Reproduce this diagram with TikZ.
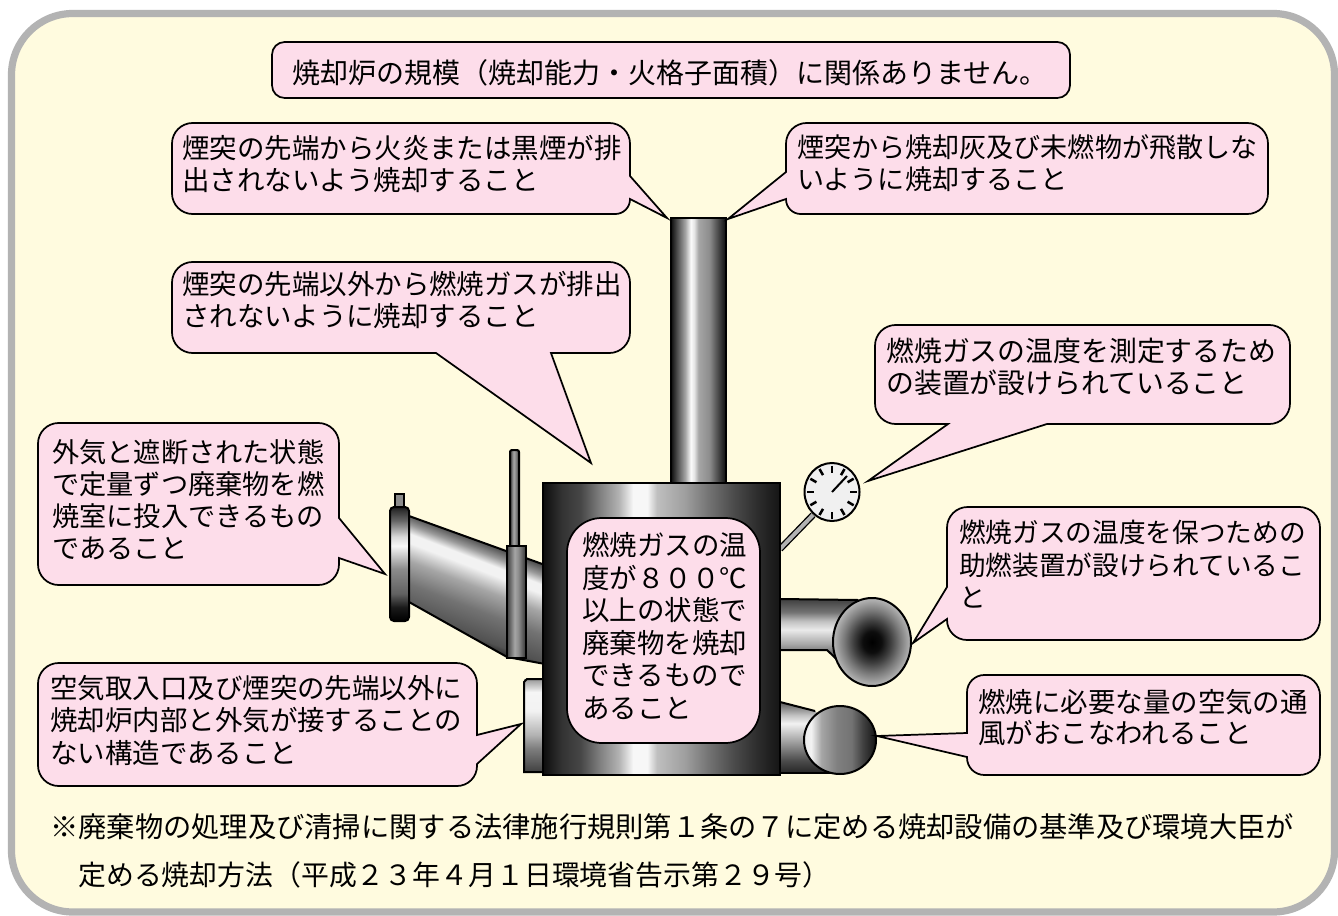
\documentclass[tikz,border=0pt]{standalone}
\usepackage{fontspec}
\usetikzlibrary{calc}
\newfontfamily\jpfont{Noto Sans CJK JP}
\definecolor{bgc}{HTML}{FFFBDF}
\definecolor{framec}{HTML}{B3B3B3}
\definecolor{pinkc}{HTML}{FDDDEA}
\pgfdeclarehorizontalshading{bodysh}{100bp}{color(0bp)=(black!95);color(25bp)=(black!95);color(29bp)=(black!80);color(33bp)=(black!72);color(37bp)=(black!50);color(41bp)=(black!30);color(44bp)=(black!3);color(47bp)=(black!3);color(49bp)=(black!25);color(55bp)=(black!38);color(60bp)=(black!55);color(65bp)=(black!70);color(70bp)=(black!82);color(75bp)=(black!92);color(100bp)=(black!92)}
\pgfdeclarehorizontalshading{chimsh}{100bp}{color(0bp)=(black!95);color(25bp)=(black!95);color(30bp)=(black!72);color(38bp)=(black!35);color(43bp)=(black!2);color(46bp)=(black!10);color(50bp)=(black!35);color(60bp)=(black!45);color(68bp)=(black!72);color(75bp)=(black!95);color(100bp)=(black!95)}
\pgfdeclareverticalshading{feedsh}{100bp}{color(0bp)=(black!90);color(25bp)=(black!90);color(30bp)=(black!68);color(42bp)=(black!55);color(52bp)=(black!35);color(60bp)=(black!5);color(64bp)=(black!5);color(68bp)=(black!40);color(75bp)=(black!85);color(100bp)=(black!85)}
\pgfdeclareverticalshading{flangesh}{100bp}{color(0bp)=(black);color(25bp)=(black);color(31bp)=(black!90);color(37bp)=(black!62);color(48bp)=(black!45);color(58bp)=(black!3);color(62bp)=(black!15);color(69bp)=(black!60);color(75bp)=(black!88);color(100bp)=(black!88)}
\pgfdeclareverticalshading{pipesh}{100bp}{color(0bp)=(black!85);color(25bp)=(black!85);color(34bp)=(black!70);color(44bp)=(black!35);color(54bp)=(black!8);color(60bp)=(black!25);color(66bp)=(black!55);color(75bp)=(black!75);color(100bp)=(black!75)}
\pgfdeclareverticalshading{stubsh}{100bp}{color(0bp)=(black!75);color(25bp)=(black!75);color(30bp)=(black!65);color(38bp)=(black!50);color(45bp)=(black!30);color(58bp)=(black!5);color(68bp)=(black!4);color(75bp)=(black!40);color(100bp)=(black!40)}
\pgfdeclareverticalshading{lowsh}{100bp}{color(0bp)=(black!85);color(25bp)=(black!85);color(34bp)=(black!70);color(46bp)=(black!40);color(60bp)=(black!5);color(66bp)=(black!25);color(75bp)=(black!65);color(100bp)=(black!65)}
\pgfdeclarehorizontalshading{ballsh}{100bp}{color(0bp)=(black!8);color(25bp)=(black!8);color(30bp)=(black!5);color(37bp)=(black!35);color(48bp)=(black!50);color(58bp)=(black!55);color(66bp)=(black!75);color(75bp)=(black!92);color(100bp)=(black!92)}
\pgfdeclarehorizontalshading{rodsh}{100bp}{color(0bp)=(black!75);color(25bp)=(black!75);color(45bp)=(black!35);color(55bp)=(black!45);color(75bp)=(black!80);color(100bp)=(black!80)}
\pgfdeclareradialshading{mouthsh}{\pgfpoint{0bp}{0bp}}{color(0bp)=(black);color(6bp)=(black!95);color(12bp)=(black!75);color(18bp)=(black!52);color(25bp)=(black!28);color(50bp)=(black!28)}
\newcommand{\jpf}[2]{\jpfont\fontsize{#1pt}{#2pt}\selectfont}
\tikzset{
  outl/.style={draw=black,line width=1.5pt},
  bub/.style={draw=black,line width=1.3pt,fill=pinkc,line join=miter},
  txt/.style={align=left,anchor=north west,inner sep=0pt,text=black},
  rc/.style={rounded corners=15.5pt}
}
\begin{document}
\begin{tikzpicture}[x=0.75pt,y=-0.75pt]
\useasboundingbox (0,0) rectangle (1338,916);
\fill[white] (0,0) rectangle (1338,916);
% frame
\draw[fill=bgc,draw=framec,line width=5.4pt,rounded corners=46pt] (11.5,13.5) rectangle (1334.5,912);

% chimney
\shade[shading=chimsh] (671,218) rectangle (726,484);
\draw[outl] (671,484) -- (671,218) -- (726,218) -- (726,484);
% feed pipe
\begin{scope}
  \clip (409,516) -- (545,565) -- (545,664) -- (507,657) -- (409,602) -- cycle;
  \begin{scope}[transform canvas={rotate around={-21:(477,590)}}]
    \shade[shading=feedsh] (380,538) rectangle (580,645);
  \end{scope}
\end{scope}
\draw[outl] (409,516) -- (545,565);
\draw[outl] (409,602) -- (507,657) -- (545,664);
% flange
\draw[outl,fill=black!45] (395,494) rectangle (404,510);
\shade[shading=flangesh,rounded corners=3pt] (390,507) rectangle (409,621);
\draw[outl,rounded corners=3pt] (390,507) rectangle (409,621);
% damper
\shade[shading=rodsh] (510,450) rectangle (519,547);
\draw[outl,rounded corners=1.5pt] (510,547) -- (510,450) -- (519,450) -- (519,547);
\shade[shading=rodsh] (507,546) rectangle (526,658);
\draw[outl] (507,546) rectangle (526,658);
% right upper pipe
\fill[shading=pipesh] (780,599) -- (858,599) -- (872,642) -- (850,672) -- (827,650) -- (780,650) -- cycle;
\draw[outl] (780,599) -- (858,600);
\draw[outl] (780,650) -- (827,650) -- (850,672);
\shade[shading=mouthsh] (872,642) ellipse [x radius=39,y radius=44];
\draw[outl] (872,642) ellipse [x radius=39,y radius=44];
% right lower pipe
\fill[shading=lowsh] (780,702) -- (815,711) -- (838,740) -- (838,773) -- (780,773) -- cycle;
\draw[outl] (780,702) -- (815,711);
\draw[outl] (780,773) -- (835,773);
\shade[shading=ballsh] (840,740) ellipse [x radius=36,y radius=34];
\draw[outl] (840,740) ellipse [x radius=36,y radius=34];
% left lower stub
\shade[shading=stubsh] (524,679) rectangle (545,772);
\draw[outl] (545,679) -- (527,679) -- (524,682) -- (524,772) -- (545,772);
% gauge
\draw[draw=black,line width=5pt] (780,549) -- (813,515);
\draw[draw=black!30,line width=3pt] (780,549) -- (813,515);
\draw[outl,fill=black!6] (832,492) ellipse [x radius=27.5,y radius=29];
\foreach \a in {0,30,...,330}
  \draw[line width=1.9pt,black] ($(832,492)+(\a:25 and 26.5)$) -- ($(832,492)+(\a:18 and 19.5)$);
\draw[line width=1.5pt,black] (832,492) -- (847,476);
% body
\shade[shading=bodysh] (543,483) rectangle (780,775);
\draw[outl] (543,483) rectangle (780,775);

% bubbles
\draw[bub,rounded corners=9.5pt] (272,42) rectangle (1070,98);
\node[txt,font=\jpf{21}{24}] (t1) at (292,59) {焼却炉の規模（焼却能力・火格子面積）に関係ありません。};

\draw[bub] (400,123) [rc] -- (630,123) [sharp corners] -- (630,176) -- (667,218) -- (630,199) [rounded corners=11pt] -- (630,214) [rc] -- (172,214) -- (172,123) -- cycle;
\node[txt,font=\jpf{20.6}{24}] (t2) at (182,135) {煙突の先端から火炎または黒煙が排\\出されないよう焼却すること};

\draw[bub] (1000,123) [rc] -- (1268,123) -- (1268,214) [rounded corners=11pt] -- (786,214) [sharp corners] -- (786,199) -- (728,219) -- (786,172) [rc] -- (786,123) -- cycle;
\node[txt,font=\jpf{20.3}{24}] (t3) at (797,134) {煙突から焼却灰及び未燃物が飛散しな\\いように焼却すること};

\draw[bub] (400,262) [rc] -- (630,262) -- (630,353) [sharp corners] -- (551,353) -- (591,463) -- (436,353) [rc] -- (172,353) -- (172,262) -- cycle;
\node[txt,font=\jpf{20.6}{24}] (t4) at (182,271) {煙突の先端以外から燃焼ガスが排出\\されないように焼却すること};

\draw[bub] (1000,325) [rc] -- (1290,325) -- (1290,424) [sharp corners] -- (1047,424) -- (868,481) -- (948,424) [rc] -- (875,424) -- (875,325) -- cycle;
\node[txt,font=\jpf{20.9}{24.2}] (t5) at (886,337.5) {燃焼ガスの温度を測定するため\\の装置が設けられていること};

\draw[bub] (200,423) [rc] -- (339,423) [sharp corners] -- (339,518) -- (385,574) -- (339,558) [rc] -- (339,585) -- (38,585) -- (38,423) -- cycle;
\node[txt,font=\jpf{20.4}{24}] (t6) at (52,439) {外気と遮断された状態\\で定量ずつ廃棄物を燃\\焼室に投入できるもの\\であること};

\draw[bub] (1100,507) [rc] -- (1320,507) -- (1320,640) [rounded corners=15pt] -- (947,640) [sharp corners] -- (947,619) -- (913,643) -- (947,587) [rc] -- (947,507) -- cycle;
\node[txt,font=\jpf{20}{24.4}] (t7) at (959,520) {燃焼ガスの温度を保つための\\助燃装置が設けられているこ\\と};

\draw[bub] (200,663) [rc] -- (477,663) [sharp corners] -- (477,735) -- (521,724) -- (477,764) [rounded corners=15pt] -- (477,786) [rc] -- (38,786) -- (38,663) -- cycle;
\node[txt,font=\jpf{20.6}{24.4}] (t8) at (50,675) {空気取入口及び煙突の先端以外に\\焼却炉内部と外気が接することの\\ない構造であること};

\draw[bub] (1100,675) [rc] -- (1320,675) -- (1320,775) [rounded corners=13pt] -- (967,775) [sharp corners] -- (967,757) -- (877,736) -- (967,733) [rounded corners=13pt] -- (967,675) -- cycle;
\node[txt,font=\jpf{20.6}{23}] (t9) at (978,689) {燃焼に必要な量の空気の通\\風がおこなわれること};

\draw[bub,rounded corners=26pt] (567,518) rectangle (760,743);
\node[txt,font=\jpf{20.6}{24.4}] (t10) at (582,532) {燃焼ガスの温\\度が８００℃\\以上の状態で\\廃棄物を焼却\\できるもので\\あること};

\node[txt,font=\jpf{21.2}{36}] (n1) at (50,813) {※廃棄物の処理及び清掃に関する法律施行規則第１条の７に定める焼却設備の基準及び環境大臣が\\\hspace{21pt}\jpf{20.9}{36}定める焼却方法（平成２３年４月１日環境省告示第２９号）};
\end{tikzpicture}
\end{document}
